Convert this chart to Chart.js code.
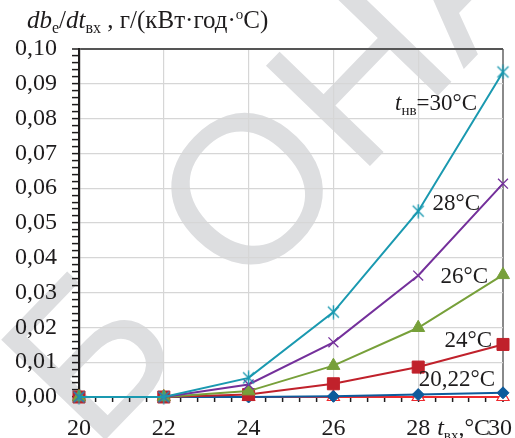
<!DOCTYPE html>
<html lang="uk">
<head>
<meta charset="utf-8">
<script src="https://cdn.jsdelivr.net/npm/chart.js@4.4.1/dist/chart.umd.min.js"></script>
<style>
  html, body { margin: 0; padding: 0; background: #fff; }
  #grafico { display: block; }
</style>
</head>
<body>
<canvas id="grafico" width="515" height="438"></canvas>
<script>
// температура повітря на вході t_вх, °C
const tVh = [20, 22, 24, 26, 28, 30];

// db_e/dt_вх, г/(кВт·год·°C) при різній t_нв
const db30 = [0, 0, 0.0055, 0.0244, 0.0534, 0.0934];
const db28 = [0, 0, 0.0036, 0.0157, 0.0349, 0.0613];
const db26 = [0, 0, 0.0017, 0.0090, 0.0199, 0.0351];
const db24 = [0, 0, 0.0007, 0.0038, 0.0086, 0.0151];
const db22 = [0, 0, 0, 0.0002, 0.0007, 0.0012];
const db20 = [0, 0, 0, 0, 0, 0];

const SERIF = '"Liberation Serif", "Times New Roman", serif';
const INK = "#1e1c1d";

// зірочка (як маркер Excel): хрест + вертикаль
function zirka(color) {
  const c = document.createElement("canvas");
  c.width = 15;
  c.height = 15;
  const g = c.getContext("2d");
  g.strokeStyle = color;
  g.lineWidth = 1.4;
  g.beginPath();
  g.moveTo(2, 2); g.lineTo(13, 13);
  g.moveTo(13, 2); g.lineTo(2, 13);
  g.moveTo(7.5, 0.5); g.lineTo(7.5, 14.5);
  g.stroke();
  return c;
}

function serie(label, values, color, style, extra) {
  return Object.assign({
    label: label,
    data: tVh.map((x, i) => ({ x: x, y: values[i] })),
    borderColor: color,
    backgroundColor: color,
    borderWidth: 2,
    pointStyle: style,
    pointRadius: 6,
    pointHoverRadius: 6,
    pointBorderColor: color,
    pointBackgroundColor: color,
    pointBorderWidth: 1,
    tension: 0,
    clip: false,
  }, extra || {});
}

// текст з індексами: [текст, шрифт, зсув по y]
function runs(ctx, parts, x, y, align) {
  let w = 0;
  parts.forEach((p) => { ctx.font = p[1]; w += ctx.measureText(p[0]).width; });
  let cx = align === "right" ? x - w : x;
  ctx.textAlign = "left";
  ctx.textBaseline = "alphabetic";
  parts.forEach((p) => {
    ctx.font = p[1];
    ctx.fillText(p[0], cx, y + (p[2] || 0));
    cx += ctx.measureText(p[0]).width;
  });
}

const it = (s) => "italic " + s + "px " + SERIF;
const rg = (s) => s + "px " + SERIF;

const isMajorX = (v) => Math.abs(v / 2 - Math.round(v / 2)) < 1e-6;
const isMajorY = (v) => Math.abs(v * 100 - Math.round(v * 100)) < 1e-6;

// водяний знак на фоні
const znak = {
  id: "znak",
  beforeDraw(chart) {
    const c = chart.ctx;
    c.save();
    c.translate(255, 196);
    c.rotate(-46 * Math.PI / 180);
    c.fillStyle = "#dddee0";
    c.font = '210px "Liberation Sans"';
    c.textAlign = "center";
    c.textBaseline = "middle";
    [["Б", -228], ["О", 0], ["Н", 160], ["А", 306]].forEach(([ch, dx]) => c.fillText(ch, dx, 4));
    c.restore();
  },
};

// підписи осей, кривих і значень по x
const pidpysy = {
  id: "pidpysy",
  afterDraw(chart) {
    const c = chart.ctx;
    const sx = chart.scales.x;
    c.save();
    c.fillStyle = INK;

    runs(c, [
      ["db", it(25)], ["e", rg(16), 5], ["/", rg(25)], ["dt", it(25)],
      ["вх", rg(16), 5], [" , г/(кВт·год·", rg(25)], ["o", rg(15), -9], ["C)", rg(25)],
    ], 27, 28);

    c.font = rg(24);
    c.textAlign = "center";
    c.textBaseline = "alphabetic";
    tVh.forEach((v) => {
      let px = sx.getPixelForValue(v);
      if (v === 30) px -= 3;
      c.fillText(String(v), px, 435);
    });
    runs(c, [["t", it(24)], ["вх", rg(15), 5], [",°C", rg(24)]], sx.getPixelForValue(28) + 19, 435);

    runs(c, [["t", it(23)], ["нв", rg(15), 5], ["=30°C", rg(23)]], 477, 110, "right");
    runs(c, [["28°C", rg(23)]], 480, 210, "right");
    runs(c, [["26°C", rg(23)]], 488, 283, "right");
    runs(c, [["24°C", rg(23)]], 492, 347, "right");
    runs(c, [["20,22°C", rg(23)]], 495, 386, "right");
    c.restore();
  },
};

new Chart(document.getElementById("grafico"), {
  type: "line",
  data: {
    datasets: [
      serie("30°C", db30, "#1a99b0", zirka("#1a99b0")),
      serie("28°C", db28, "#74309b", "crossRot", { pointRadius: 7, pointBorderWidth: 1.3 }),
      serie("26°C", db26, "#77a03a", "triangle", { pointRadius: 7.5 }),
      serie("24°C", db24, "#c0212b", "rect", { pointRadius: 8.5 }),
      serie("22°C", db22, "#0d5b9c", "rectRot", { pointRadius: 6 }),
      serie("20°C", db20, "#ee2a2e", "triangle", {
        pointRadius: 7, pointBackgroundColor: "#ffffff", pointBorderWidth: 1.2,
      }),
    ],
  },
  options: {
    responsive: false,
    animation: false,
    devicePixelRatio: 1,
    layout: { padding: { left: 0, top: 49, right: 12, bottom: 0 } },
    plugins: {
      legend: { display: false },
      tooltip: { enabled: false },
    },
    events: [],
    scales: {
      x: {
        type: "linear",
        min: 20,
        max: 30,
        ticks: { stepSize: 0.4, autoSkip: false, display: false },
        grid: {
          drawTicks: true,
          tickLength: 5,
          color: (ctx) => {
            const v = ctx.tick.value;
            if (!isMajorX(v) || v === 20) return "rgba(0,0,0,0)";
            return v === 30 ? "#8a8a8a" : "#d6d6d6";
          },
          lineWidth: (ctx) => (ctx.tick.value === 30 ? 2 : 1.2),
          tickColor: INK,
          tickWidth: 1.5,
        },
        border: { color: INK, width: 1.5 },
        afterFit(scale) {
          scale.height = 41;
          scale.paddingLeft = 0;
          scale.paddingRight = 0;
        },
      },
      y: {
        min: 0,
        max: 0.1,
        ticks: {
          stepSize: 0.002,
          autoSkip: false,
          padding: 15,
          color: INK,
          font: { family: SERIF, size: 24 },
          callback: (v) => (isMajorY(v) ? v.toFixed(2).replace(".", ",") : ""),
        },
        grid: {
          drawTicks: true,
          tickLength: 7,
          color: (ctx) => {
            const v = ctx.tick.value;
            if (!isMajorY(v) || v === 0) return "rgba(0,0,0,0)";
            return v > 0.099 ? "#555555" : "#d6d6d6";
          },
          lineWidth: (ctx) => (ctx.tick.value > 0.099 ? 2 : 1.2),
          tickColor: INK,
          tickWidth: 1.5,
        },
        border: { color: INK, width: 2.2 },
        afterFit(scale) {
          scale.width = 79;
          scale.paddingTop = 0;
          scale.paddingBottom = 0;
        },
      },
    },
  },
  plugins: [znak, pidpysy],
});
</script>
</body>
</html>
